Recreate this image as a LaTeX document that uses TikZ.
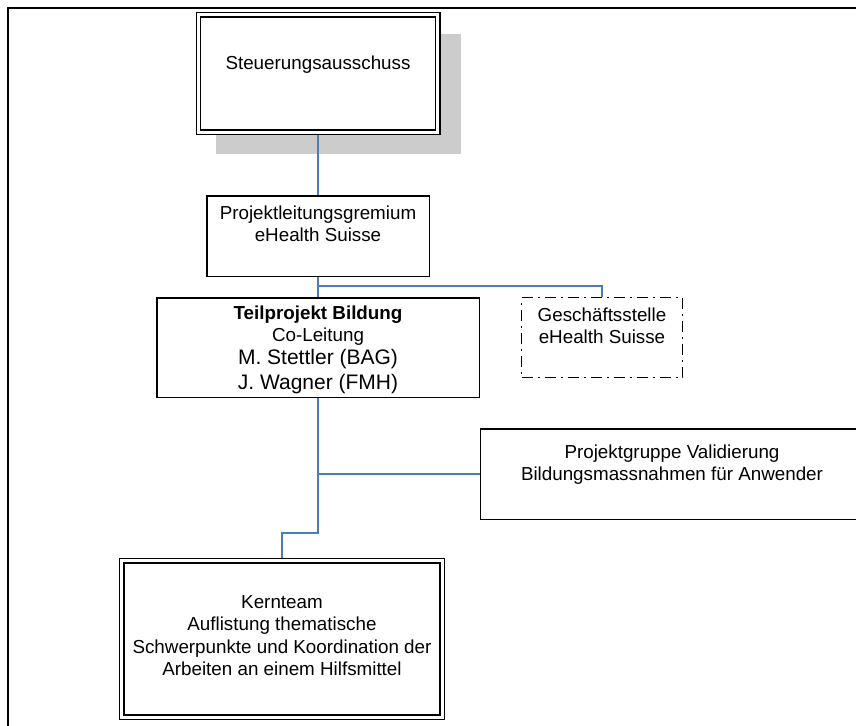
\documentclass[tikz,border=0pt]{standalone}
\usepackage{fontspec}
\setmainfont{Liberation Sans}
\usetikzlibrary{shadows,positioning}
\definecolor{verbinder}{RGB}{74,126,187}
\newcommand{\grossschrift}{\fontsize{21}{24}\selectfont}
\tikzset{
	gremium/.style = {
		draw, rectangle, fill=white, line width=1.5pt, outer sep=0.75pt, inner sep=0pt
	}
}
\tikzset{
	hauptgremium/.style = {
		gremium, line width=1.3pt, double, double distance=3pt, outer sep=2.8pt
	}
}
\tikzset{
	stelle/.style = {
		gremium, dash pattern=on 11pt off 5pt on 2pt off 5pt
	}
}
\tikzset{
	inhalt/.style = {
		inner sep=0pt, align=center, font=\fontsize{18.8}{22.3}\selectfont
	}
}
\tikzset{
	linie/.style = {
		draw=verbinder, line width=1.3pt
	}
}

\begin{document}
\begin{tikzpicture}[x=1pt, y=-1pt]
	\useasboundingbox (0,0) rectangle (856,725);
	\clip (0,0) rectangle (856,725);
	\draw[line width=2.6pt] (8,730) -- (8,8) -- (860,8);

	\node[hauptgremium, minimum width=239.4pt, minimum height=117.4pt,
		drop shadow={shadow xshift=20pt, shadow yshift=-20pt, shadow scale=1.023, fill=black!20, opacity=1}]
		(Steuerung) at (318,73.5) {};
	\node[gremium, minimum width=222.5pt, minimum height=80.5pt](Projektleitung) at (318,236) {};
	\node[gremium, minimum width=322.5pt, minimum height=99.5pt](Teilprojekt) at (318,347.5) {};
	\node[stelle, minimum width=161pt, minimum height=80pt](Geschaeftsstelle) at (602,337.5) {};
	\node[gremium, minimum width=383.5pt, minimum height=90.5pt](Projektgruppe) at (672,474) {};
	\node[hauptgremium, minimum width=320.4pt, minimum height=156.4pt](Kernteam) at (282,639) {};

	\node[inhalt, below=43.5pt of Steuerung.north](SteuerungText){Steuerungsausschuss};
	\node[inhalt, below=10.5pt of Projektleitung.north](ProjektleitungText){Projektleitungsgremium\\
		eHealth Suisse};
	\node[inhalt, below=8.5pt of Teilprojekt.north](TeilprojektText){\textbf{Teilprojekt Bildung}\\
		Co-Leitung\\[0.5pt]
		{\grossschrift M. Stettler (BAG)}\\[2.4pt]
		{\grossschrift J. Wagner (FMH)}};
	\node[inhalt, below=10.8pt of Geschaeftsstelle.north](GeschaeftsstelleText){Geschäftsstelle\\
		eHealth Suisse};
	\node[inhalt, below=16.2pt of Projektgruppe.north](ProjektgruppeText){Projektgruppe Validierung\\
		Bildungsmassnahmen für Anwender};
	\node[inhalt, below=37.5pt of Kernteam.north](KernteamText){Kernteam\\
		Auflistung thematische\\
		Schwerpunkte und Koordination der\\
		Arbeiten an einem Hilfsmittel};

	\coordinate (Abzweig) at (Projektleitung.south |- 0,286);
	\coordinate (Knick) at (Teilprojekt.south |- 0,533);

	\draw[linie] (Steuerung.south) -- (Projektleitung.north);
	\draw[linie] (Projektleitung.south) -- (Teilprojekt.north);
	\draw[linie] (Abzweig) -| (Geschaeftsstelle.north);
	\draw[linie] (Projektgruppe.west) -- (Projektgruppe.west -| Teilprojekt.south);
	\draw[linie] (Teilprojekt.south) -- (Knick) -| (Kernteam.north);
\end{tikzpicture}
\end{document}
